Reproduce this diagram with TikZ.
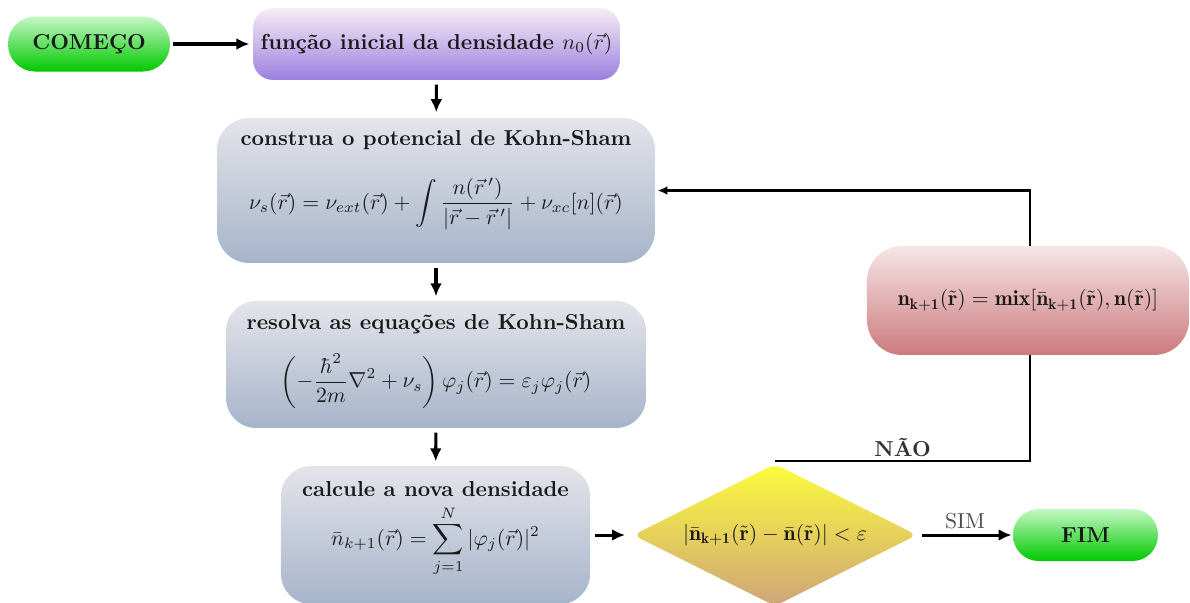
\documentclass[tikz,border=0pt]{standalone}
\usepackage{amsmath}
\usepackage{fontspec}
\usetikzlibrary{shapes.geometric,arrows.meta}
\definecolor{gtop}{HTML}{C4F8C4}
\definecolor{gbot}{HTML}{00C800}
\definecolor{ptop}{HTML}{F6ECF4}
\definecolor{pbot}{HTML}{9C80E0}
\definecolor{btop}{HTML}{E4E4EA}
\definecolor{bbot}{HTML}{A6B4CA}
\definecolor{rtop}{HTML}{F6E6E8}
\definecolor{rbot}{HTML}{CC7A7C}
\definecolor{ytop}{HTML}{FCFC3C}
\definecolor{ybot}{HTML}{CFA47A}
\definecolor{txt}{HTML}{1A1A1A}
\newcommand{\bn}{\bar{\mathbf{n}}}
\newcommand{\nn}{\mathbf{n}}
\newcommand{\tr}{\tilde{\mathbf{r}}}
\newcommand{\kk}{\mathbf{k+1}}
\tikzset{
  box/.style={rectangle, inner sep=0pt, text=txt, font=\bfseries},
  greenbox/.style={box, top color=gtop, bottom color=gbot},
  purplebox/.style={box, top color=ptop, bottom color=pbot},
  bluebox/.style={box, top color=btop, bottom color=bbot},
  redbox/.style={box, top color=rtop, bottom color=rbot},
  decbox/.style={diamond, aspect=2, inner sep=0pt, top color=ytop, bottom color=ybot, text=txt},
  boxtitle/.style={inner sep=0pt, text=txt, font=\bfseries},
  boxmath/.style={inner sep=0pt, text=txt},
  flow/.style={line width=1.4pt, -{Latex[length=6pt,width=5.5pt]}},
  back/.style={line width=1pt},
}
\begin{document}
\begin{tikzpicture}[x=0.4617pt,y=-0.4617pt]
\useasboundingbox (0,0) rectangle (1190,602);
% nodes
\node[greenbox, minimum width=74.8pt, minimum height=25.4pt, rounded corners=12.5pt] (start) at (89,44) {COMEÇO};
\node[purplebox, minimum width=169.4pt, minimum height=33.2pt, rounded corners=9.2pt] (init) at (436.5,44) {função inicial da densidade $n_0(\vec{r})$};
\node[bluebox, minimum width=202.2pt, minimum height=66.9pt, rounded corners=14.8pt] (ks) at (436,190.5) {};
\node[boxtitle] (kst) at (436,140) {construa o potencial de Kohn-Sham};
\node[boxmath] (ksf) at (436,204) {$\displaystyle \nu_s(\vec{r}) = \nu_{ext}(\vec{r}) + \int \frac{n(\vec{r}\,')}{|\vec{r}-\vec{r}\,'|} + \nu_{xc}[n](\vec{r})$};
\node[bluebox, minimum width=193.9pt, minimum height=58.6pt, rounded corners=13.9pt] (solve) at (436,364.5) {};
\node[boxtitle] (solvet) at (436,324) {resolva as equações de Kohn-Sham};
\node[boxmath] (solvef) at (436,381) {$\displaystyle \left(-\frac{\hbar^2}{2m}\nabla^2+\nu_s\right)\varphi_j(\vec{r}) = \varepsilon_j\varphi_j(\vec{r})$};
\node[bluebox, minimum width=142.7pt, minimum height=63.7pt, rounded corners=13.9pt] (dens) at (435.5,535) {};
\node[boxtitle] (denst) at (435.5,489) {calcule a nova densidade};
\node[boxmath] (densf) at (435.5,541) {$\displaystyle \bar{n}_{k+1}(\vec{r}) = \sum_{j=1}^{N}|\varphi_j(\vec{r})|^2$};
\node[decbox, minimum width=131.1pt, minimum height=65.6pt, rounded corners=3.7pt] (dec) at (775,535) {$|\bn_{\kk}(\tr) - \bn(\tr)| < \varepsilon$};
\node[greenbox, minimum width=66.9pt, minimum height=24pt, rounded corners=11.8pt] (fim) at (1085.5,535) {FIM};
\node[redbox, minimum width=148.7pt, minimum height=50.3pt, rounded corners=16.2pt] (mix) at (1028,300.5) {$\nn_{\kk}(\tr) = \mathbf{mix}[\bn_{\kk}(\tr), \nn(\tr)]$};
% connectors
\draw[flow, shorten <=1pt, shorten >=1.5pt] (start) -- (init);
\draw[flow, shorten <=2pt, shorten >=2.5pt] (init) -- (ks);
\draw[flow, shorten <=2pt, shorten >=2pt] (ks) -- (solve);
\draw[flow, shorten <=2pt, shorten >=2pt] (solve) -- (dens);
\draw[flow, shorten <=2.3pt, shorten >=3.5pt] (dens) -- (dec);
\draw[flow, shorten <=2pt, shorten >=0.5pt] (dec) -- node[above, text=black!70, inner sep=2pt] {SIM} (fim);
\draw[back] ([yshift=1pt]dec.north) -| node[pos=0.25, above, text=black!80, font=\bfseries, inner sep=1.5pt] {NÃO} ([xshift=1pt]mix.south);
\draw[back, -{Latex[length=4.5pt,width=4pt]}] ([xshift=1pt]mix.north) |- ([xshift=1pt]ks.east);
\end{tikzpicture}
\end{document}
